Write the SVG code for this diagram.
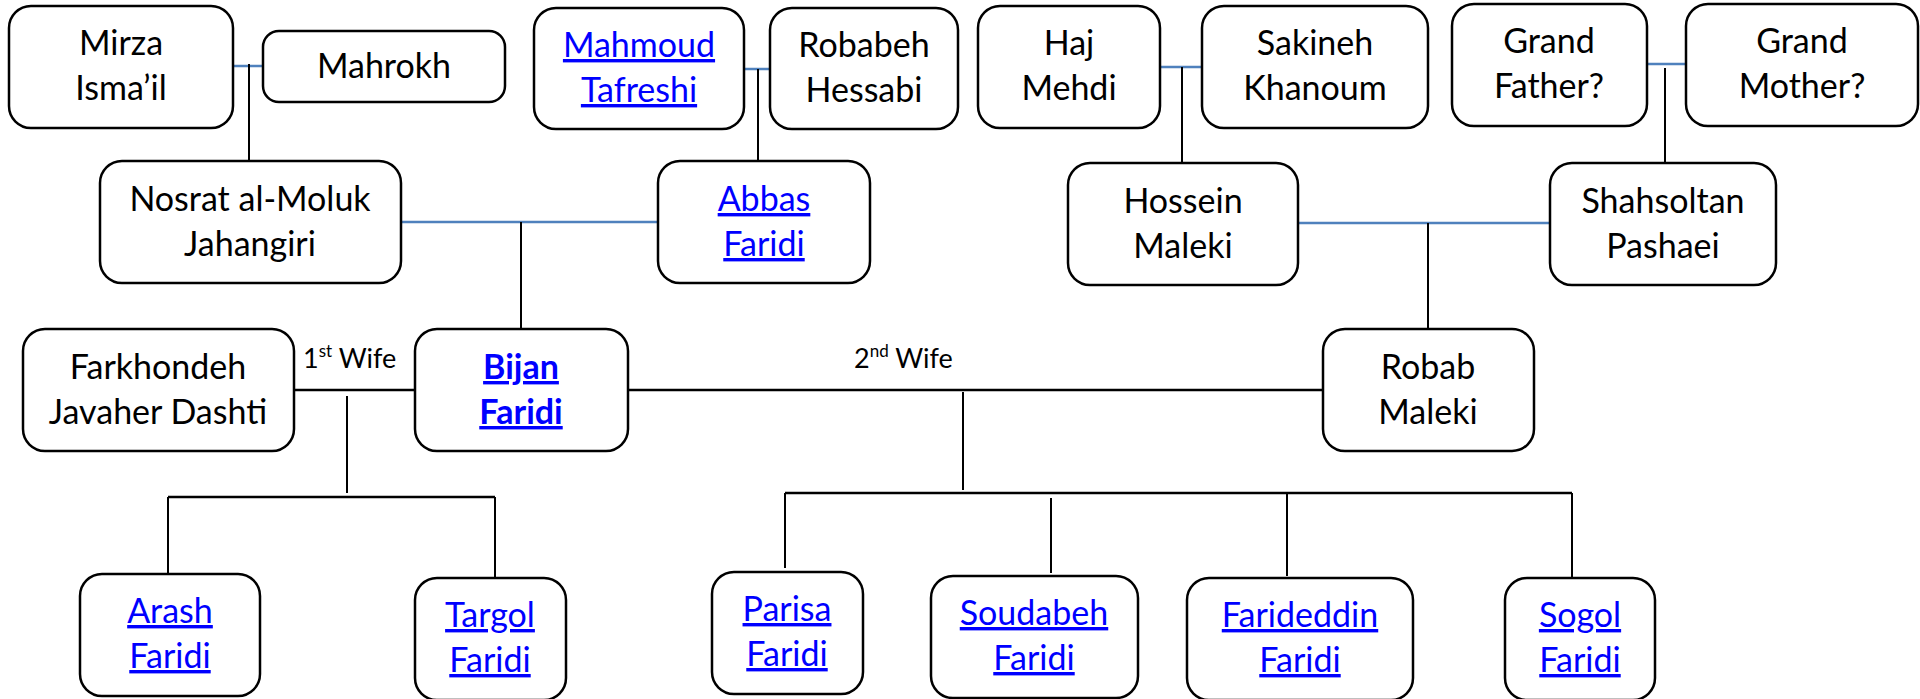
<svg xmlns="http://www.w3.org/2000/svg" width="1920" height="699" viewBox="0 0 1920 699">
<style>
.box{fill:#fff;stroke:#000;stroke-width:2.5}
.t{font-family:Lato,"Liberation Sans",sans-serif;font-size:34px;fill:#000;text-anchor:middle}
.lk{fill:#0000ff;text-decoration:underline}
.b{font-weight:bold}
.lab{font-family:Lato,"Liberation Sans",sans-serif;font-size:27px;fill:#000}
.m{stroke:#4f81bd;stroke-width:2.5;fill:none}
.c{stroke:#000;stroke-width:2;fill:none}
.c2{stroke:#000;stroke-width:2.5;fill:none}
</style>
<rect width="1920" height="699" fill="#fff"/>
<g id="connectors">
<line class="m" x1="233" y1="66" x2="263" y2="66"/>
<line class="c" x1="249" y1="64" x2="249" y2="161"/>
<line class="m" x1="744" y1="69" x2="770" y2="69"/>
<line class="c" x1="758" y1="69" x2="758" y2="161"/>
<line class="m" x1="1160" y1="67" x2="1202" y2="67"/>
<line class="c" x1="1182" y1="67" x2="1182" y2="163"/>
<line class="m" x1="1647" y1="64" x2="1686" y2="64"/>
<line class="c" x1="1665" y1="68" x2="1665" y2="163"/>
<line class="m" x1="401" y1="222" x2="658" y2="222"/>
<line class="c" x1="521" y1="222" x2="521" y2="329"/>
<line class="m" x1="1298" y1="223" x2="1550" y2="223"/>
<line class="c" x1="1428" y1="223" x2="1428" y2="329"/>
<line class="c2" x1="292" y1="390" x2="415" y2="390"/>
<line class="c" x1="347" y1="396" x2="347" y2="493"/>
<line class="c2" x1="168" y1="497" x2="495" y2="497"/>
<line class="c" x1="168" y1="497" x2="168" y2="574"/>
<line class="c" x1="495" y1="497" x2="495" y2="578"/>
<line class="c2" x1="628" y1="390" x2="1323" y2="390"/>
<line class="c" x1="963" y1="392" x2="963" y2="490"/>
<line class="c2" x1="785" y1="493" x2="1572" y2="493"/>
<line class="c" x1="785" y1="493" x2="785" y2="568"/>
<line class="c" x1="1051" y1="498" x2="1051" y2="573"/>
<line class="c" x1="1287" y1="493" x2="1287" y2="576"/>
<line class="c" x1="1572" y1="493" x2="1572" y2="578"/>
<text class="lab" x="303" y="368">1<tspan font-size="17" dy="-11">st</tspan><tspan dy="11"> Wife</tspan></text>
<text class="lab" x="854" y="368">2<tspan font-size="17" dy="-11">nd</tspan><tspan dy="11"> Wife</tspan></text>
</g>
<g id="mirza"><rect class="box" x="9" y="6" width="224" height="122" rx="22"/><text class="t" x="121" y="55">Mirza</text><text class="t" x="121" y="100">Isma’il</text></g>
<g id="mahrokh"><rect class="box" x="263" y="31" width="242" height="71" rx="16"/><text class="t" x="384" y="78">Mahrokh</text></g>
<g id="mahmoud"><rect class="box" x="534" y="8" width="210" height="121" rx="22"/><text class="t lk" x="639" y="57">Mahmoud</text><text class="t lk" x="639" y="102">Tafreshi</text></g>
<g id="robabeh"><rect class="box" x="770" y="8" width="188" height="121" rx="22"/><text class="t" x="864" y="57">Robabeh</text><text class="t" x="864" y="102">Hessabi</text></g>
<g id="hajmehdi"><rect class="box" x="978" y="6" width="182" height="122" rx="22"/><text class="t" x="1069" y="55">Haj</text><text class="t" x="1069" y="100">Mehdi</text></g>
<g id="sakineh"><rect class="box" x="1202" y="6" width="226" height="122" rx="22"/><text class="t" x="1315" y="55">Sakineh</text><text class="t" x="1315" y="100">Khanoum</text></g>
<g id="grandfather"><rect class="box" x="1452" y="4" width="195" height="122" rx="22"/><text class="t" x="1549" y="53">Grand</text><text class="t" x="1549" y="98">Father?</text></g>
<g id="grandmother"><rect class="box" x="1686" y="4" width="232" height="122" rx="22"/><text class="t" x="1802" y="53">Grand</text><text class="t" x="1802" y="98">Mother?</text></g>
<g id="nosrat"><rect class="box" x="100" y="161" width="301" height="122" rx="22"/><text class="t" x="250" y="211">Nosrat al-Moluk</text><text class="t" x="250" y="256">Jahangiri</text></g>
<g id="abbas"><rect class="box" x="658" y="161" width="212" height="122" rx="22"/><text class="t lk" x="764" y="211">Abbas</text><text class="t lk" x="764" y="256">Faridi</text></g>
<g id="hossein"><rect class="box" x="1068" y="163" width="230" height="122" rx="22"/><text class="t" x="1183" y="213">Hossein</text><text class="t" x="1183" y="258">Maleki</text></g>
<g id="shahsoltan"><rect class="box" x="1550" y="163" width="226" height="122" rx="22"/><text class="t" x="1663" y="213">Shahsoltan</text><text class="t" x="1663" y="258">Pashaei</text></g>
<g id="farkhondeh"><rect class="box" x="23" y="329" width="271" height="122" rx="22"/><text class="t" x="158" y="379">Farkhondeh</text><text class="t" x="158" y="424">Javaher Dashti</text></g>
<g id="bijan"><rect class="box" x="415" y="329" width="213" height="122" rx="22"/><text class="t lk b" x="521" y="379">Bijan</text><text class="t lk b" x="521" y="424">Faridi</text></g>
<g id="robab"><rect class="box" x="1323" y="329" width="211" height="122" rx="22"/><text class="t" x="1428" y="379">Robab</text><text class="t" x="1428" y="424">Maleki</text></g>
<g id="arash"><rect class="box" x="80" y="574" width="180" height="122" rx="22"/><text class="t lk" x="170" y="623">Arash</text><text class="t lk" x="170" y="668">Faridi</text></g>
<g id="targol"><rect class="box" x="415" y="578" width="151" height="122" rx="22"/><text class="t lk" x="490" y="627">Targol</text><text class="t lk" x="490" y="672">Faridi</text></g>
<g id="parisa"><rect class="box" x="712" y="572" width="151" height="122" rx="22"/><text class="t lk" x="787" y="621">Parisa</text><text class="t lk" x="787" y="666">Faridi</text></g>
<g id="soudabeh"><rect class="box" x="931" y="576" width="207" height="122" rx="22"/><text class="t lk" x="1034" y="625">Soudabeh</text><text class="t lk" x="1034" y="670">Faridi</text></g>
<g id="farideddin"><rect class="box" x="1187" y="578" width="226" height="122" rx="22"/><text class="t lk" x="1300" y="627">Farideddin</text><text class="t lk" x="1300" y="672">Faridi</text></g>
<g id="sogol"><rect class="box" x="1505" y="578" width="150" height="122" rx="22"/><text class="t lk" x="1580" y="627">Sogol</text><text class="t lk" x="1580" y="672">Faridi</text></g>
</svg>
